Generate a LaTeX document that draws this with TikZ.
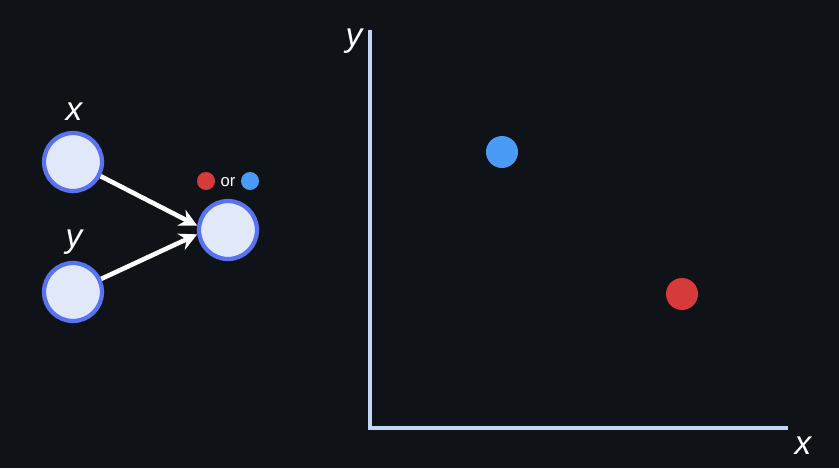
\documentclass[tikz,border=0pt]{standalone}
\usepackage{fontspec}
\setmainfont{Liberation Sans}
\usetikzlibrary{arrows.meta,positioning}
\definecolor{bgdark}{RGB}{15,19,24}
\definecolor{neuronfill}{RGB}{224,232,250}
\definecolor{neuronedge}{RGB}{88,114,240}
\definecolor{axiscol}{RGB}{196,214,242}
\definecolor{dotred}{RGB}{214,58,58}
\definecolor{dotblue}{RGB}{74,155,245}

\begin{document}
\begin{tikzpicture}[x=0.02cm, y=-0.02cm,
    neuron/.style={circle, draw=neuronedge, line width=2.4pt, fill=neuronfill, minimum size=1.16cm, inner sep=0pt},
    varlabel/.style={text=white, font=\fontsize{19}{20}\selectfont\itshape, inner sep=0pt},
    classdot/.style={circle, inner sep=0pt, minimum size=#1}]
        \fill[bgdark] (0,0) rectangle (839,468);
        \useasboundingbox (0,0) rectangle (839,468);
        % network
        \node[neuron] (inx) at (73,162) {};
        \node[neuron] (iny) at (73,292) {};
        \node[neuron] (out) at (228,230) {};
        \node[varlabel] (labx) at (74,112) {x};
        \node[varlabel] (laby) at (74,242) {y};
        \node[classdot=0.36cm, fill=dotred] (smallred) at (206,181) {};
        \node[text=white, font=\fontsize{9.5}{10}\selectfont, inner sep=0pt] (or) at (228,182) {or};
        \node[classdot=0.36cm, fill=dotblue] (smallblue) at (250,181) {};
        \draw[-{Stealth[length=10pt,width=10pt]}, white, line width=2.6pt] (inx) -- (out.172);
        \draw[-{Stealth[length=10pt,width=10pt]}, white, line width=2.6pt] (iny) -- (out.188);
        % axes
        \coordinate (origin) at (370,428);
        \coordinate (ytop) at (370,30);
        \coordinate (xend) at (788,428);
        \draw[axiscol, line width=1.9pt] (ytop) -- (origin) -- (xend);
        \node[varlabel] (axy) at (354,41) {y};
        \node[varlabel] (axx) at (803,446) {x};
        % data points
        \node[classdot=0.64cm, fill=dotblue] (ptblue) at (502,152) {};
        \node[classdot=0.64cm, fill=dotred] (ptred) at (682,294) {};
      \end{tikzpicture}
\end{document}
